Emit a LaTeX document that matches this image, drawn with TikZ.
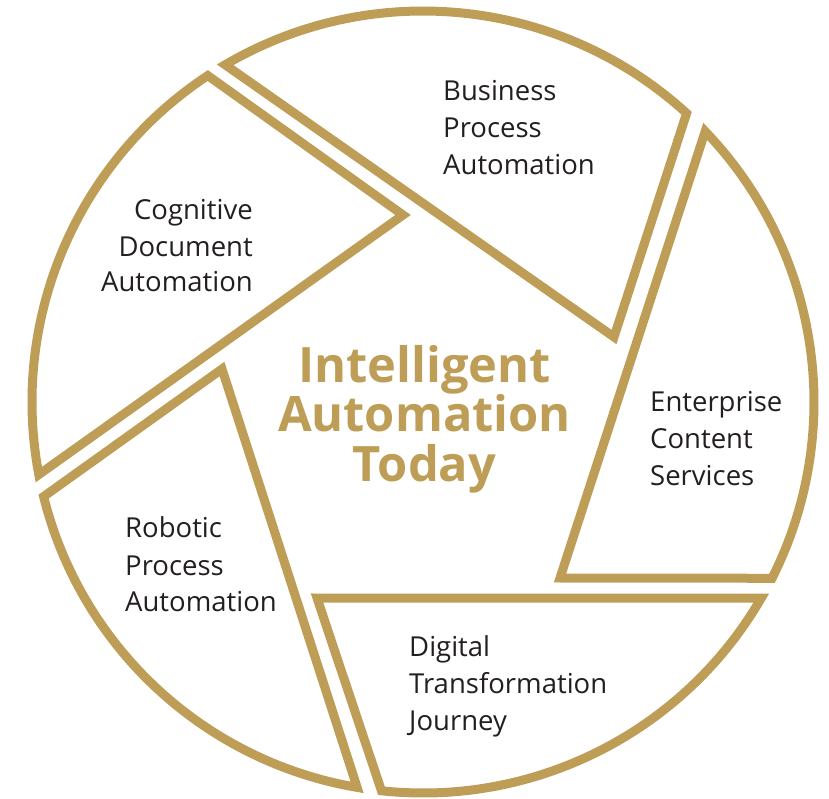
\documentclass[tikz,border=0pt]{standalone}
\usepackage{fontspec}
\setmainfont{Open Sans}
\definecolor{gold}{RGB}{190,158,86}
\definecolor{txt}{RGB}{35,31,32}
\begin{document}
\begin{tikzpicture}[x=1pt,y=1pt,
  piece/.style={draw=gold, line width=9pt, line join=miter},
  lbl/.style={font=\fontsize{27.5}{33}\selectfont, text=txt, inner sep=0pt, anchor=base west},
  lblr/.style={lbl, anchor=base east},
  ttl/.style={font=\bfseries\fontsize{48.8}{56}\selectfont, text=gold, inner sep=0pt, anchor=base}]
\useasboundingbox (0,0) rectangle (829,798);
\begin{scope}[shift={(423,396)}]
  % inner vertices
  \coordinate (c1) at (191,65);
  \coordinate (c2) at (137,-176);
  \coordinate (c3) at (-106,-196);
  \coordinate (c4) at (-201,33);
  \coordinate (c5) at (-20,187);
  % Business Process Automation
  \draw[piece] (c1) -- (47.6:391) arc[start angle=47.6, end angle=120.4, radius=391] -- cycle;
  % Enterprise Content Services
  \draw[piece] (c2) -- (-26.8:391) arc[start angle=-26.8, end angle=43.8, radius=391] -- cycle;
  % Digital Transformation Journey
  \draw[piece] (c3) -- (-96.1:391) arc[start angle=-96.1, end angle=-30.1, radius=391] -- cycle;
  % Robotic Process Automation
  \draw[piece] (c4) -- (194.0:391) arc[start angle=194.0, end angle=260.3, radius=391] -- cycle;
  % Cognitive Document Automation
  \draw[piece] (c5) -- (123.4:391) arc[start angle=123.4, end angle=190.7, radius=391] -- cycle;
\end{scope}
% labels
\node[lbl] (bpa1) at (443,697) {Business};
\node[lbl] (bpa2) at (443,660) {Process};
\node[lbl] (bpa3) at (443,623) {Automation};
\node[lblr] (cda1) at (253,578) {Cognitive};
\node[lblr] (cda2) at (253,541.3) {Document};
\node[lblr] (cda3) at (253,506.3) {Automation};
\node[lbl] (ecs1) at (650,386) {Enterprise};
\node[lbl] (ecs2) at (650,349.3) {Content};
\node[lbl] (ecs3) at (650,312.6) {Services};
\node[lbl] (rpa1) at (125,260) {Robotic};
\node[lbl] (rpa2) at (125,223) {Process};
\node[lbl] (rpa3) at (125,187) {Automation};
\node[lbl] (dtj1) at (409,141.3) {Digital};
\node[lbl] (dtj2) at (409,104.7) {Transformation};
\node[lbl] (dtj3) at (409,68) {Journey};
% title
\node[ttl] (t1) at (424.5,415) {Intelligent};
\node[ttl] (t2) at (424.5,366) {Automation};
\node[ttl] (t3) at (424.5,316.3) {Today};
\end{tikzpicture}
\end{document}
